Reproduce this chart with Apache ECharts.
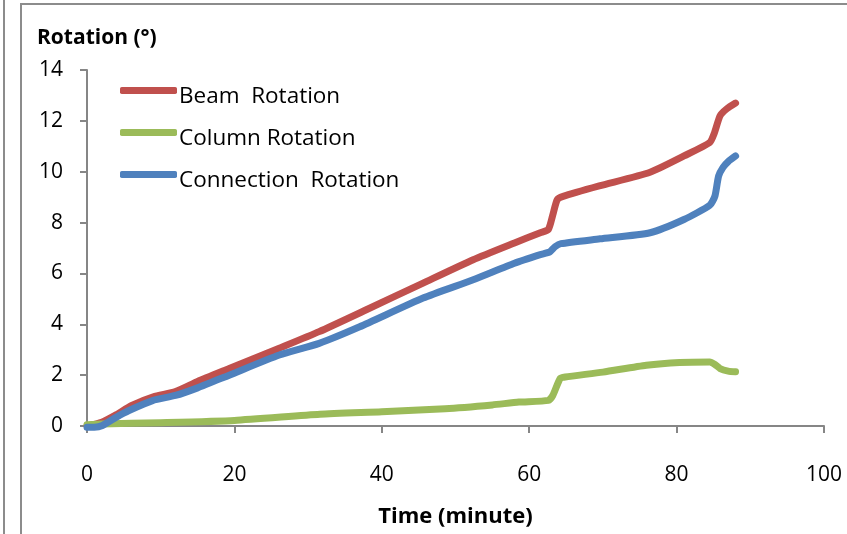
<!DOCTYPE html>
<html>
<head>
<meta charset="utf-8">
<script src="https://cdn.jsdelivr.net/npm/echarts@6/dist/echarts.min.js"></script>
<style>
  html, body { margin: 0; padding: 0; background: #fff; }
  #chart { width: 847px; height: 534px; }
</style>
</head>
<body>
<div id="chart"></div>
<script>
// 时间 (minute) / 转角 (°)
const beamTime = [0, 2, 4, 6, 9, 12, 15, 19.3, 26, 31.5, 37.9, 45.6, 52.4, 58, 61.5, 62.6, 63.2, 63.8, 64.6, 69.5, 76.4, 81, 84.5, 85.1, 85.9, 86.8, 88]
const beamRot = [0, 0.15, 0.45, 0.8, 1.15, 1.35, 1.75, 2.26, 3.05, 3.71, 4.57, 5.62, 6.54, 7.2, 7.6, 7.73, 8.3, 8.9, 9.03, 9.44, 9.98, 10.62, 11.15, 11.5, 12.2, 12.47, 12.7]

const columnTime = [0, 2, 10, 20, 31.6, 40, 48.6, 55, 58.6, 62.6, 63.2, 64.2, 64.9, 70, 75.9, 80.4, 84.5, 85.2, 85.9, 87, 88]
const columnRot = [0.05, 0.08, 0.13, 0.22, 0.46, 0.56, 0.68, 0.83, 0.94, 1.01, 1.2, 1.87, 1.93, 2.12, 2.39, 2.5, 2.52, 2.42, 2.26, 2.16, 2.13]

const connTime = [0, 1, 2.1, 4, 5.7, 8.9, 12, 15, 19.3, 26.1, 31.5, 37, 45.6, 52.4, 58, 61.5, 62.8, 63.5, 64.3, 69.6, 76.4, 81, 84.5, 85.2, 85.7, 86.3, 87, 88]
const connRot = [-0.05, -0.05, 0.02, 0.35, 0.61, 1.0, 1.2, 1.5, 2.0, 2.79, 3.25, 3.9, 5.03, 5.75, 6.4, 6.74, 6.85, 7.05, 7.17, 7.36, 7.6, 8.12, 8.68, 9.04, 9.83, 10.17, 10.4, 10.62]

const seriesNames = ['Beam  Rotation', 'Column Rotation', 'Connection  Rotation']
const colors = ['#C0504D', '#9BBB59', '#4F81BD']

const xTicks = { min: 0, max: 100, interval: 20 }
const yTicks = { min: 0, max: 14, interval: 2 }

function pairs(xs, ys) {
  let out = []
  for (let i = 0; i < xs.length; i++) {
    out.push([xs[i], ys[i]])
  }
  return out
}

function lineSeries(name, data, color) {
  return {
    name: name,
    type: 'line',
    data: data,
    symbol: 'none',
    smooth: 0.2,
    clip: false,
    lineStyle: { width: 7, color: color, cap: 'round', join: 'round' },
    itemStyle: { color: color }
  }
}

const fontFamily = '"Open Sans", "Noto Sans", sans-serif'
const fontSize = 21
const axisGray = '#868686'

let myChart = echarts.init(document.getElementById('chart'))
let option = {
  animation: false,
  backgroundColor: '#fff',
  textStyle: { fontFamily: fontFamily },
  title: {
    text: 'Rotation (°)',
    left: 37,
    top: 28,
    padding: 0,
    textStyle: { fontFamily: fontFamily, fontSize: 21, fontWeight: 'bold', color: '#000' }
  },
  color: colors,
  legend: {
    orient: 'vertical',
    left: 120,
    top: 73,
    padding: 0,
    itemGap: 7,
    itemWidth: 57,
    itemHeight: 7,
    icon: 'roundRect',
    formatter: function (name) {
      return '{t|' + name + '}'
    },
    textStyle: {
      fontFamily: fontFamily,
      fontSize: 22.5,
      color: '#000',
      rich: {
        t: { fontFamily: fontFamily, fontSize: 22.5, color: '#000', lineHeight: 22, padding: [12, 0, 0, -3] }
      }
    },
    data: seriesNames
  },
  grid: {
    left: 87,
    right: 23,
    top: 70,
    bottom: 108
  },
  xAxis: {
    type: 'value',
    min: xTicks.min,
    max: xTicks.max,
    interval: xTicks.interval,
    name: 'Time (minute)',
    nameLocation: 'middle',
    nameGap: 80,
    nameTextStyle: { fontFamily: fontFamily, fontSize: 22, fontWeight: 'bold', color: '#000' },
    axisLine: { lineStyle: { color: axisGray, width: 2 } },
    axisTick: { show: true, inside: false, length: 7, lineStyle: { color: axisGray, width: 2 } },
    axisLabel: { margin: 39, fontSize: fontSize, color: '#000', fontFamily: fontFamily },
    splitLine: { show: false }
  },
  yAxis: {
    type: 'value',
    min: yTicks.min,
    max: yTicks.max,
    interval: yTicks.interval,
    axisLine: { show: true, lineStyle: { color: axisGray, width: 2 } },
    axisTick: { show: true, inside: false, length: 7, lineStyle: { color: axisGray, width: 2 } },
    axisLabel: { margin: 24, fontSize: fontSize, color: '#000', fontFamily: fontFamily },
    splitLine: { show: false }
  },
  graphic: [
    // 外框
    { type: 'line', shape: { x1: 4, y1: 0, x2: 4, y2: 534 }, style: { stroke: '#8c8c8c', lineWidth: 2 } },
    { type: 'line', shape: { x1: 21, y1: 4, x2: 21, y2: 534 }, style: { stroke: '#8c8c8c', lineWidth: 2 } },
    { type: 'line', shape: { x1: 20, y1: 4, x2: 847, y2: 4 }, style: { stroke: '#8c8c8c', lineWidth: 2 } }
  ],
  series: [
    lineSeries(seriesNames[0], pairs(beamTime, beamRot), colors[0]),
    lineSeries(seriesNames[1], pairs(columnTime, columnRot), colors[1]),
    lineSeries(seriesNames[2], pairs(connTime, connRot), colors[2])
  ]
}
myChart.setOption(option)
</script>
</body>
</html>
